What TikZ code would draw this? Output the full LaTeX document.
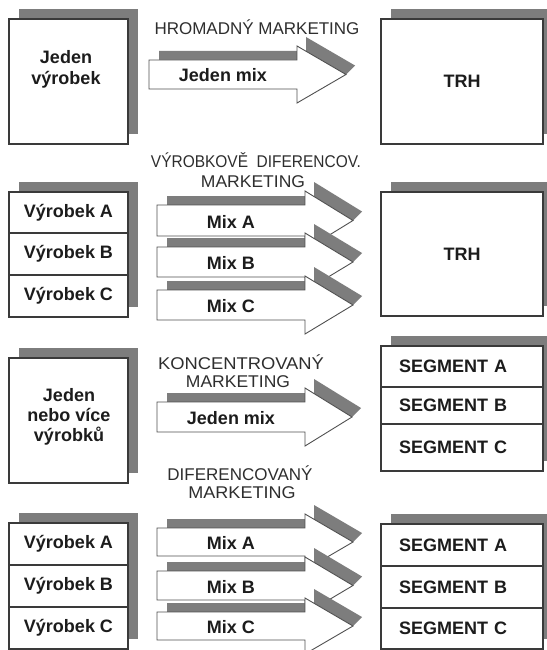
\documentclass[tikz,border=0pt]{standalone}
\usepackage{fontspec}
\setmainfont{Liberation Sans}
\usepackage{graphicx}
\definecolor{boxcol}{HTML}{3A3A3A}
\definecolor{arrcol}{HTML}{505050}
\definecolor{shadecol}{HTML}{7D7D7D}
\definecolor{txtcol}{HTML}{1C1C1C}
\definecolor{ttlcol}{HTML}{2E2E2E}
\tikzset{
  shade/.style={fill=shadecol},
  cell/.style={draw=boxcol, line width=1.3pt, fill=white, inner sep=0pt,
    text=txtcol, font=\bfseries\fontsize{18}{21}\selectfont},
  prodcell/.style={cell, minimum width=119pt, align=center},
  segcell/.style={cell, minimum width=162pt, text width=126pt, align=left},
  arrowline/.style={draw=arrcol, line width=0.9pt, fill=white, line join=miter},
  lbl/.style={inner sep=0pt, text=txtcol, font=\bfseries\fontsize{18}{21}\selectfont},
  ttl/.style={inner sep=0pt, text=ttlcol, font=\fontsize{17}{20}\selectfont}
}
% block arrow with raised edge: name, left, body top, body bottom, neck x, tip x, label
\newcommand\mixarrow[7]{%
  \fill[shade] (#2+10,#3-9) -- (#5+9,#3-9) -- (#5+9,#3-23)
    -- (#6+9,{(#3+#4)/2-9}) -- (#6,{(#3+#4)/2}) -- (#5,#3-14) -- (#5,#3)
    -- (#2+10,#3) -- cycle;
  \draw[arrowline] (#2,#3) -- (#5,#3) -- (#5,#3-14) -- (#6,{(#3+#4)/2})
    -- (#5,#4+14) -- (#5,#4) -- (#2,#4) -- cycle;
  \node[lbl] (#1) at ({(#2+#5)/2},{(#3+#4)/2+1}) {#7};}
% drop shadow of a box given its corners
\newcommand\boxshade[4]{\fill[shade] (#1+10,#2-10) rectangle (#3+10,#4-10);}
\begin{document}
\begin{tikzpicture}[x=1pt, y=-1pt]
\useasboundingbox[fill=white] (0,0) rectangle (546,650);

% ---------- mass marketing ----------
\node[ttl] (t1) at (257,27) {HROMADNÝ MARKETING};
\boxshade{9}{19}{128}{144}
\node[prodcell, minimum height=125pt, text depth=0pt] (jv) at (68.5,81.5) {};
\node[lbl, align=center] (jvt) at (66,69) {Jeden\\výrobek};
\mixarrow{m1}{149}{60}{89}{297}{346}{Jeden mix}
\boxshade{381}{19}{543}{144}
\node[cell, minimum width=162pt, minimum height=125pt] (trh1) at (462,81.5) {TRH};

% ---------- product-differentiated marketing ----------
\node[ttl] (t2a) at (256,160) {\scalebox{0.91}[1]{VÝROBKOVĚ\ \ DIFERENCOV.}};
\node[ttl] (t2b) at (253,182) {\scalebox{1.03}[1]{MARKETING}};
\boxshade{9}{192}{128}{317}
\node[prodcell, minimum height=41pt] (va1) at (68.5,212.5) {Výrobek A};
\node[prodcell, minimum height=42pt] (vb1) at (68.5,254) {Výrobek B};
\node[prodcell, minimum height=42pt] (vc1) at (68.5,296) {Výrobek C};
\mixarrow{ma1}{157}{205}{236}{305}{353}{Mix A}
\mixarrow{mb1}{157}{247}{277}{305}{353}{Mix B}
\mixarrow{mc1}{157}{290}{320}{305}{353}{Mix C}
\boxshade{381}{192}{543}{316}
\node[cell, minimum width=162pt, minimum height=124pt] (trh2) at (462,254) {TRH};

% ---------- concentrated marketing ----------
\node[ttl] (t3a) at (241,362) {\scalebox{1.08}[1]{KONCENTROVANÝ}};
\node[ttl] (t3b) at (238,382) {\scalebox{1.03}[1]{MARKETING}};
\boxshade{9}{358}{128}{483}
\node[prodcell, minimum height=125pt] (jn) at (68.5,420.5) {};
\node[lbl, align=center, font=\bfseries\fontsize{18}{20}\selectfont] (jnt) at (69,417) {Jeden\\nebo více\\výrobků};
\mixarrow{m3}{157}{402}{432}{305}{352}{Jeden mix}
\boxshade{381}{346}{543}{471}
\node[segcell, minimum height=41pt] (sa1) at (462,366.5) {SEGMENT A};
\node[segcell, minimum height=37pt] (sb1) at (462,405.5) {SEGMENT B};
\node[segcell, minimum height=47pt] (sc1) at (462,447.5) {SEGMENT C};

% ---------- differentiated marketing ----------
\node[ttl] (t4a) at (240,473) {DIFERENCOVANÝ};
\node[ttl] (t4b) at (242,493) {\scalebox{1.06}[1]{MARKETING}};
\boxshade{9}{523}{128}{649}
\node[prodcell, minimum height=42pt] (va2) at (68.5,544) {Výrobek A};
\node[prodcell, minimum height=42pt] (vb2) at (68.5,586) {Výrobek B};
\node[prodcell, minimum height=42pt] (vc2) at (68.5,628) {Výrobek C};
\mixarrow{ma2}{157}{528}{556}{305}{353}{Mix A}
\mixarrow{mb2}{157}{571}{600}{305}{353}{Mix B}
\mixarrow{mc2}{157}{612}{640}{305}{353}{Mix C}
\boxshade{381}{524}{543}{649}
\node[segcell, minimum height=42pt] (sa2) at (462,545) {SEGMENT A};
\node[segcell, minimum height=42pt] (sb2) at (462,587) {SEGMENT B};
\node[segcell, minimum height=41pt] (sc2) at (462,628.5) {SEGMENT C};
\end{tikzpicture}
\end{document}
